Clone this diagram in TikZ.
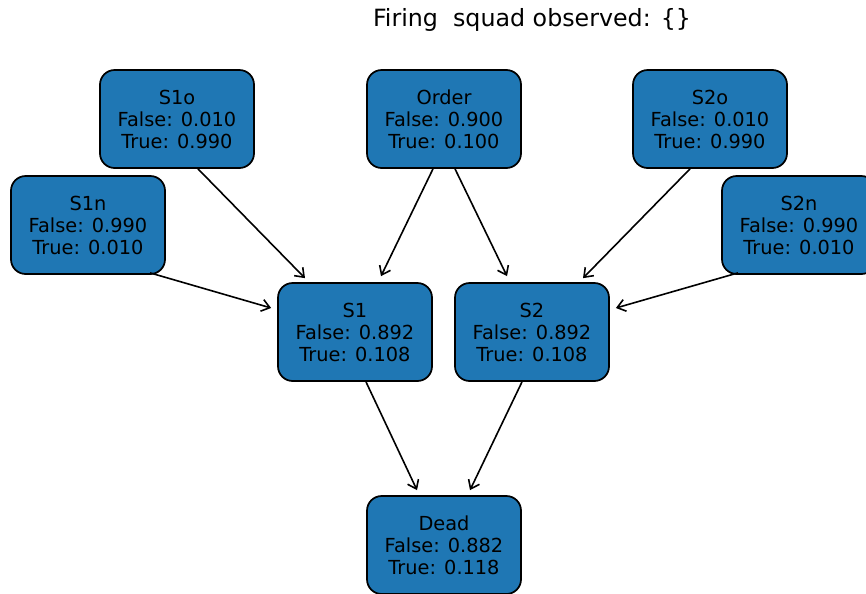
\documentclass[tikz,border=0pt]{standalone}
\usepackage{fontspec}
\setmainfont{DejaVu Sans}
\usepackage{xcolor}
\usetikzlibrary{arrows.meta, positioning}
\definecolor{nodeBlue}{RGB}{31,119,180}

\begin{document}
\begin{tikzpicture}[
    x=0.75pt, y=-0.75pt,
    prob/.style={rectangle, rounded corners=11pt, draw, line width=1.3pt,
                 fill=nodeBlue, minimum width=115.5pt, minimum height=73.5pt,
                 inner sep=0pt, align=center,
                 font=\fontsize{14.5pt}{16.5pt}\selectfont},
    arr/.style={-{Straight Barb[length=6pt, width=9pt]}, line width=1.2pt},
  ]
    \useasboundingbox (0,0) rectangle (866,593);

    % Title
    \node[font=\fontsize{17.8pt}{20pt}\selectfont] (title) at (532,20)
      {Firing\ \ squad observed: \{\}};

    % Parents
    \node[prob] (s1o)   at (177,119) {S1o\\False: 0.010\\True: 0.990};
    \node[prob] (order) at (444,119) {Order\\False: 0.900\\True: 0.100};
    \node[prob] (s2o)   at (710,119) {S2o\\False: 0.010\\True: 0.990};
    \node[prob] (s1n)   at (88,225)  {S1n\\False: 0.990\\True: 0.010};
    \node[prob] (s2n)   at (799,225) {S2n\\False: 0.990\\True: 0.010};

    % Shooters
    \node[prob] (s1) at (355,332) {S1\\False: 0.892\\True: 0.108};
    \node[prob] (s2) at (532,332) {S2\\False: 0.892\\True: 0.108};

    % Prisoner
    \node[prob] (dead) at (444,545) {Dead\\False: 0.882\\True: 0.118};

    % Arrows
    \draw[arr] ([shift={(21,0)}]s1o.south)    -- ([shift={(-50,-4)}]s1.north);
    \draw[arr] ([shift={(-11,0)}]order.south) -- ([shift={(26,-6)}]s1.north);
    \draw[arr] ([shift={(11,0)}]order.south)  -- ([shift={(-25,-6)}]s2.north);
    \draw[arr] ([shift={(-20,0)}]s2o.south)   -- ([shift={(51,-4)}]s2.north);
    \draw[arr] ([shift={(62,-2)}]s1n.south)   -- ([shift={(-6,-24)}]s1.west);
    \draw[arr] ([shift={(-61,-2)}]s2n.south)  -- ([shift={(6,-24)}]s2.east);
    \draw[arr] ([shift={(11,0)}]s1.south)     -- ([shift={(-27,-5)}]dead.north);
    \draw[arr] ([shift={(-10,0)}]s2.south)    -- ([shift={(26,-5)}]dead.north);
\end{tikzpicture}
\end{document}
